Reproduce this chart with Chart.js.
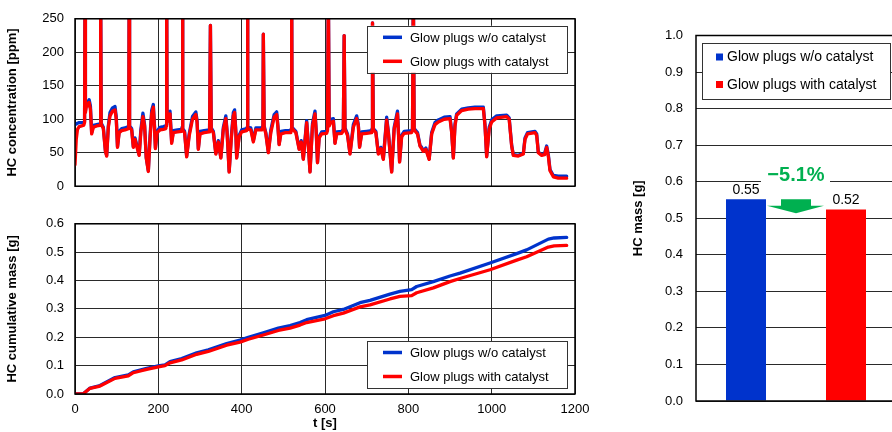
<!DOCTYPE html>
<html><head><meta charset="utf-8">
<script src="https://cdn.jsdelivr.net/npm/chart.js@4/dist/chart.umd.min.js"></script>
<style>
html,body{margin:0;padding:0;background:#fff;width:892px;height:432px;overflow:hidden;position:relative;}
canvas{position:absolute;}
</style></head><body>
<canvas id="c1" width="600" height="205" style="left:0;top:0"></canvas>
<canvas id="c2" width="600" height="227" style="left:0;top:205px"></canvas>
<canvas id="c3" width="300" height="432" style="left:610px;top:0"></canvas>
<script>
// ---------- data ----------
const seriesNames = ['Glow plugs w/o catalyst', 'Glow plugs with catalyst'];
const timeS = [0,3,6,10,16,21,23,24,25,28,31,34,37,40,44,52,60,61,62,63,68,73,76,80,84,90,96,99,102,106,112,120,128,129,130,131,136,140,144,148,154,158,163,167,171,176,180,184,188,191,193,197,204,212,218,219,220,221,224,228,232,236,246,256,257,258,259,263,268,274,282,290,293,296,300,310,322,323,325,327,332,338,344,350,356,362,365,370,375,380,383,386,388,394,400,412,413,414,415,422,428,434,448,451,452,454,458,464,470,478,484,487,490,494,505,518,519,520,521,530,538,543,548,556,559,564,570,576,579,582,586,592,604,606,608,610,614,620,624,628,640,644,646,648,654,660,668,676,680,683,688,700,712,713,714,716,722,728,734,740,748,752,760,766,774,777,779,784,790,808,810,812,814,822,828,832,836,842,850,856,864,872,886,900,904,908,912,916,928,944,960,980,984,988,994,1000,1012,1036,1042,1048,1052,1064,1076,1080,1086,1104,1108,1112,1120,1127,1132,1136,1140,1148,1160,1180];
const hcRed = [32,70,85,89,90,91,95,300,110,124,120,125,115,78,88,90,91,95,300,92,86,52,45,88,105,112,114,100,58,80,83,84,86,90,300,88,84,58,70,60,46,80,104,90,42,22,70,108,118,85,56,80,84,85,86,90,300,95,106,108,64,80,81,82,86,300,84,80,44,75,100,107,95,55,78,80,81,85,240,85,80,48,66,42,85,101,80,21,70,105,110,80,42,74,81,83,86,300,86,84,66,84,84,88,227,88,78,50,80,103,107,88,62,78,80,80,84,300,86,80,55,66,40,95,70,21,90,108,80,35,72,78,79,83,300,90,95,97,64,78,79,83,225,85,76,48,88,101,90,58,78,79,80,84,244,84,80,48,56,40,99,80,21,85,108,70,36,74,79,80,84,300,84,78,60,56,52,55,40,78,92,96,100,101,80,42,90,106,113,115,116,116,90,44,85,96,102,104,100,60,46,45,48,70,78,80,76,50,46,47,58,45,23,14,12,12];
const hcBlue = [92,93,94,95,95,95,97,300,112,127,125,129,120,80,91,92,93,97,300,94,88,53,46,90,110,117,119,104,59,82,86,87,89,92,300,90,86,59,72,62,47,84,109,92,43,23,74,113,122,88,57,82,88,89,90,92,300,98,111,112,66,83,84,85,88,300,86,82,45,78,104,111,98,56,82,83,84,87,240,87,82,49,68,43,88,105,82,22,73,110,114,82,43,76,84,86,88,300,88,87,68,87,87,90,227,90,80,51,84,107,111,90,63,82,83,83,86,300,88,82,56,68,41,98,72,22,94,112,82,36,74,81,82,85,300,92,100,101,65,81,82,85,225,87,78,49,92,105,92,59,81,82,83,86,244,86,82,49,58,41,103,82,22,88,112,72,37,76,82,83,86,300,86,80,61,58,53,57,41,80,95,99,103,104,82,43,93,108,115,117,118,118,92,45,88,99,105,106,102,61,47,46,49,72,80,82,78,51,47,49,60,47,25,16,15,15];

const cumTime = [0,20,36,60,96,128,140,172,200,216,228,256,292,320,364,396,416,452,488,516,540,556,600,620,644,684,708,756,780,808,820,860,900,924,996,1060,1084,1136,1150,1180];
const cumRed  = [0,0.001,0.020,0.028,0.055,0.064,0.075,0.087,0.096,0.100,0.110,0.120,0.140,0.150,0.172,0.183,0.193,0.208,0.224,0.232,0.243,0.252,0.265,0.276,0.285,0.307,0.314,0.335,0.344,0.347,0.357,0.374,0.396,0.407,0.438,0.472,0.484,0.518,0.522,0.524];
const cumBlue = [0,0.001,0.021,0.030,0.058,0.067,0.078,0.090,0.099,0.103,0.114,0.125,0.145,0.156,0.178,0.190,0.200,0.216,0.232,0.241,0.252,0.262,0.277,0.290,0.298,0.322,0.330,0.352,0.362,0.368,0.379,0.396,0.416,0.426,0.462,0.495,0.508,0.546,0.550,0.552];

const massCategories = [''];
const massBlue = [0.552];
const massRed = [0.524];
const massChangeLabel = '\u22125.1%';

const concTitle = 'HC concentration [ppm]';
const cumTitle = 'HC cumulative mass [g]';
const timeTitle = 't [s]';
const massTitle = 'HC mass [g]';

// ---------- styling ----------
const BLUE = '#0033cc', RED = '#ff0000', GREEN = '#00b050', GRID = '#2a2a2a';
const FONT = "'Liberation Sans', Arial, Helvetica, sans-serif";
Chart.defaults.font.family = FONT;
Chart.defaults.color = '#000';

const pts = (xs, ys) => xs.map((x, i) => ({x, y: ys[i]}));

const framePlugin = {
  id: 'frame',
  afterDatasetsDraw(chart) {
    const {ctx, chartArea: a} = chart;
    ctx.save();
    ctx.strokeStyle = '#000';
    ctx.lineWidth = 1.5;
    ctx.strokeRect(a.left, a.top, a.right - a.left, a.bottom - a.top);
    ctx.restore();
  }
};

const lineLegendPlugin = {
  id: 'lineLegend',
  afterDraw(chart, args, o) {
    const {ctx, chartArea: a} = chart;
    const w = 200, h = 47;
    const bx = a.right - 8 - w;
    const by = o.anchor === 'top' ? a.top + 7 : a.bottom - 6 - h;
    ctx.save();
    ctx.fillStyle = '#fff';
    ctx.fillRect(bx, by, w, h);
    ctx.strokeStyle = '#333';
    ctx.lineWidth = 1;
    ctx.strokeRect(Math.round(bx) + 0.5, Math.round(by) + 0.5, w, h);
    ctx.font = '13px ' + FONT;
    ctx.textBaseline = 'middle';
    chart.data.datasets.forEach((ds, i) => {
      const y = by + 11.5 + i * 24;
      ctx.strokeStyle = ds.borderColor;
      ctx.lineWidth = 3.5;
      ctx.beginPath();
      ctx.moveTo(bx + 16, y);
      ctx.lineTo(bx + 35, y);
      ctx.stroke();
      ctx.fillStyle = '#000';
      ctx.fillText(ds.label, bx + 43, y + 1);
    });
    ctx.restore();
  }
};

function lineOptions(cfg) {
  return {
    responsive: false, animation: false, events: [], devicePixelRatio: 1,
    layout: {padding: cfg.padding},
    plugins: {legend: {display: false}, tooltip: {enabled: false}, lineLegend: {anchor: cfg.legendAnchor}},
    scales: {
      x: {
        type: 'linear', min: 0, max: 1200,
        afterFit: s => { s.height = cfg.xHeight; },
        ticks: {display: cfg.xTicks, stepSize: 200, font: {size: 13}, padding: 8, maxRotation: 0, callback: v => String(v)},
        grid: {color: GRID, lineWidth: 1, drawTicks: false},
        border: {display: false},
        title: {display: cfg.xTicks, text: timeTitle, font: {size: 13, weight: 'bold'}, padding: {top: 0, bottom: 1}}
      },
      y: {
        min: cfg.yMin, max: cfg.yMax,
        afterFit: s => { s.width = 75; },
        ticks: {stepSize: cfg.yStep, font: {size: 13}, padding: 11, callback: cfg.yFmt},
        grid: {color: GRID, lineWidth: 1, drawTicks: false},
        border: {display: false},
        title: {display: true, text: cfg.yTitle, font: {size: 13, weight: 'bold'}, padding: {top: 5, bottom: 0}}
      }
    }
  };
}

const lineDs = (label, data, color, order) => ({
  label, data, borderColor: color, backgroundColor: color, borderWidth: 3.3,
  pointRadius: 0, tension: 0, borderJoinStyle: 'round', borderCapStyle: 'round', order
});

new Chart(document.getElementById('c1'), {
  type: 'line',
  data: {datasets: [
    lineDs(seriesNames[0], pts(timeS, hcBlue), BLUE, 2),
    lineDs(seriesNames[1], pts(timeS, hcRed), RED, 1)
  ]},
  options: lineOptions({padding: {top: 16, right: 25, bottom: 0, left: 0}, xHeight: 8, xTicks: false,
    yMin: 0, yMax: 250, yStep: 50, yTitle: concTitle, yFmt: v => String(v), legendAnchor: 'top'}),
  plugins: [framePlugin, lineLegendPlugin]
});

new Chart(document.getElementById('c2'), {
  type: 'line',
  data: {datasets: [
    lineDs(seriesNames[0], pts(cumTime, cumBlue), BLUE, 2),
    lineDs(seriesNames[1], pts(cumTime, cumRed), RED, 1)
  ]},
  options: lineOptions({padding: {top: 7, right: 25, bottom: 0, left: 0}, xHeight: 38, xTicks: true,
    yMin: 0, yMax: 0.6, yStep: 0.1, yTitle: cumTitle, yFmt: v => Number(v).toFixed(1), legendAnchor: 'bottom'}),
  plugins: [framePlugin, lineLegendPlugin]
});

// ---------- bar chart ----------
const barDecor = {
  id: 'barDecor',
  afterDraw(chart) {
    const {ctx, chartArea: a} = chart;
    const b0 = chart.getDatasetMeta(0).data[0];
    const b1 = chart.getDatasetMeta(1).data[0];
    ctx.save();
    // value labels
    ctx.font = '14px ' + FONT;
    ctx.fillStyle = '#000';
    ctx.textAlign = 'center';
    ctx.textBaseline = 'alphabetic';
    [[b0, massBlue[0]], [b1, massRed[0]]].forEach(([b, v]) => ctx.fillText(v.toFixed(2), b.x, b.y - 5));
    // change annotation
    const cx = (b0.x + b1.x) / 2;
    const ty = b0.y - 25;
    ctx.fillStyle = '#fff';
    ctx.fillRect(cx - 35, ty - 11, 69, 22);
    ctx.fillStyle = GREEN;
    ctx.font = 'bold 20px ' + FONT;
    ctx.textBaseline = 'middle';
    ctx.fillText(massChangeLabel, cx, ty + 1);
    const top = b0.y;
    ctx.beginPath();
    ctx.moveTo(cx - 15, top);
    ctx.lineTo(cx + 15, top);
    ctx.lineTo(cx + 15, top + 6.5);
    ctx.lineTo(cx + 28, top + 6.5);
    ctx.lineTo(cx, top + 14);
    ctx.lineTo(cx - 29, top + 6.5);
    ctx.lineTo(cx - 15, top + 6.5);
    ctx.closePath();
    ctx.fill();
    // legend
    const bx = a.left + 6, by = a.top + 7, w = 188, h = 56;
    ctx.fillStyle = '#fff';
    ctx.fillRect(bx, by, w, h);
    ctx.strokeStyle = '#333';
    ctx.lineWidth = 1;
    ctx.strokeRect(Math.round(bx) + 0.5, Math.round(by) + 0.5, w, h);
    ctx.font = '14px ' + FONT;
    ctx.textAlign = 'left';
    ctx.textBaseline = 'middle';
    chart.data.datasets.forEach((ds, i) => {
      const y = by + 14.5 + i * 27.5;
      ctx.fillStyle = ds.backgroundColor;
      ctx.fillRect(bx + 14, y - 3.5, 7, 7);
      ctx.fillStyle = '#000';
      ctx.fillText(ds.label, bx + 25, y + 0.5);
    });
    ctx.restore();
  }
};

new Chart(document.getElementById('c3'), {
  type: 'bar',
  data: {labels: massCategories, datasets: [
    {label: seriesNames[0], data: massBlue, backgroundColor: BLUE, borderWidth: 0, categoryPercentage: 1, barPercentage: 0.4},
    {label: seriesNames[1], data: massRed, backgroundColor: RED, borderWidth: 0, categoryPercentage: 1, barPercentage: 0.4}
  ]},
  options: {
    responsive: false, animation: false, events: [], devicePixelRatio: 1,
    layout: {padding: {top: 35.5, right: 14, bottom: 0, left: 0}},
    plugins: {legend: {display: false}, tooltip: {enabled: false}},
    scales: {
      x: {
        afterFit: s => { s.height = 31; },
        ticks: {display: false},
        grid: {display: false, drawTicks: false},
        border: {display: false}
      },
      y: {
        min: 0, max: 1,
        afterFit: s => { s.width = 86; },
        ticks: {stepSize: 0.1, font: {size: 13}, padding: 13, callback: v => Number(v).toFixed(1)},
        grid: {color: GRID, lineWidth: 1, drawTicks: false},
        border: {display: false},
        title: {display: true, text: massTitle, font: {size: 13, weight: 'bold'}, padding: {top: 21, bottom: 0}}
      }
    }
  },
  plugins: [framePlugin, barDecor]
});
</script>
</body></html>
